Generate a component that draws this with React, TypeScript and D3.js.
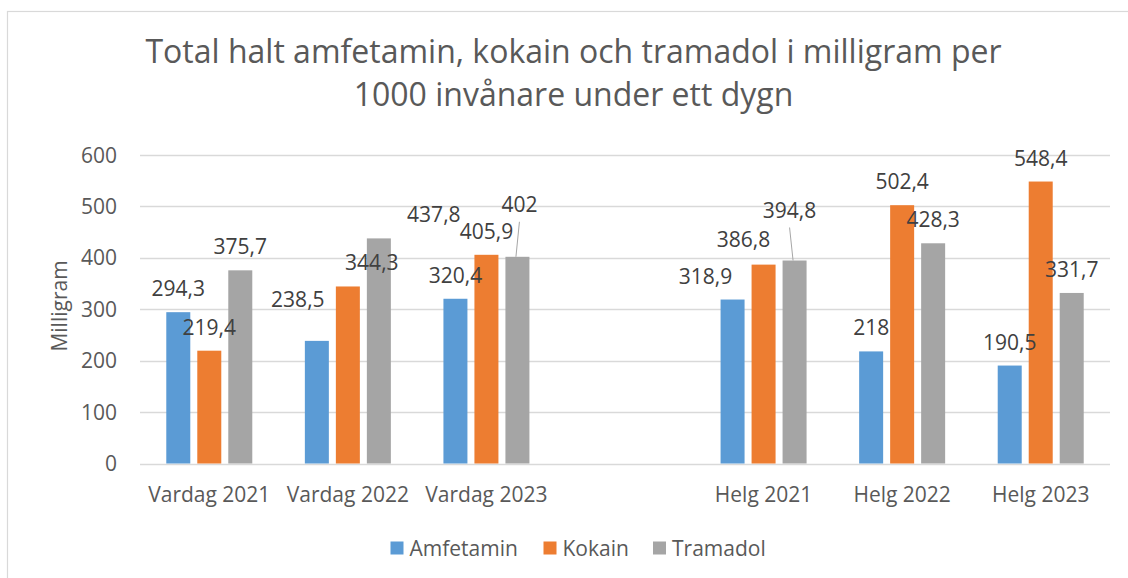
import React from 'react';
import * as d3 from 'd3';

const categories = ['Vardag 2021', 'Vardag 2022', 'Vardag 2023', '', 'Helg 2021', 'Helg 2022', 'Helg 2023'];
const seriesNames = ['Amfetamin', 'Kokain', 'Tramadol'];
const amfetamin = [294.3, 238.5, 320.4, null, 318.9, 218, 190.5];
const kokain = [219.4, 344.3, 405.9, null, 386.8, 502.4, 548.4];
const tramadol = [375.7, 437.8, 402, null, 394.8, 428.3, 331.7];
const yTicks = [0, 100, 200, 300, 400, 500, 600];
const colors = ['#5B9BD5', '#ED7D31', '#A5A5A5'];

// labels that were dragged by hand in the original (series index, category index)
const labelNudge: Record<string, { dx: number; dy: number; leader?: boolean }> = {
  '0-1': { dx: -19, dy: -18 },
  '1-1': { dx: 24, dy: 0 },
  '2-1': { dx: 55, dy: 0 },
  '2-2': { dx: 2, dy: -29, leader: true },
  '0-4': { dx: -27, dy: 0 },
  '1-4': { dx: -20, dy: -2 },
  '2-4': { dx: -5, dy: -27, leader: true },
};

const W = 1128;
const H = 578;
const FONT = '"Open Sans", "Noto Sans", sans-serif';
const FS = 21;

const fmt = (v: number) => String(v).replace('.', ',');

const App: React.FC = () => {
  const values = [amfetamin, kokain, tramadol];
  const x = d3.scaleBand<number>().domain(categories.map((_, i) => i)).range([140, 1110]);
  const inner = d3.scaleBand<number>().domain([0, 1, 2]).range([-43, 43]).paddingInner(7 / 31);
  const y = d3.scaleLinear().domain([0, 600]).range([463.5, 155]);
  const cx = (c: number) => (x(c) ?? 0) + x.bandwidth() / 2;

  const legendX = [390.5, 543.5, 653];

  return (
    <svg width={W} height={H} style={{ position: 'absolute', left: 0, top: 0, fontFamily: FONT }}>
      <rect x={0} y={0} width={W} height={H} fill="#fff" />
      <rect x={7.5} y={11.5} width={W + 20} height={H + 20} fill="none" stroke="#d9d9d9" strokeWidth={1.2} />

      <text x={573.5} y={63} textAnchor="middle" fontSize={32} fill="#595959">
        Total halt amfetamin, kokain och tramadol i milligram per
      </text>
      <text x={573.5} y={106} textAnchor="middle" fontSize={32} fill="#595959">
        1000 invånare under ett dygn
      </text>

      {yTicks.map(t => (
        <g key={t}>
          <line x1={140} x2={1110} y1={Math.round(y(t)) + 0.5} y2={Math.round(y(t)) + 0.5} stroke="#d9d9d9" strokeWidth={1.3} />
          <text x={117} y={y(t) + 7.5} textAnchor="end" fontSize={FS} fill="#595959">{t}</text>
        </g>
      ))}

      <text transform="translate(67,306) rotate(-90)" textAnchor="middle" fontSize={FS} fill="#595959">Milligram</text>

      {values.map((vals, s) =>
        vals.map((v, c) =>
          v == null ? null : (
            <rect key={`b${s}-${c}`} x={cx(c) + (inner(s) ?? 0)} width={inner.bandwidth()}
              y={y(v)} height={y(0) - y(v)} fill={colors[s]} />
          )
        )
      )}

      {values.map((vals, s) =>
        vals.map((v, c) => {
          if (v == null) return null;
          const bx = cx(c) + (inner(s) ?? 0) + inner.bandwidth() / 2;
          const n = labelNudge[`${s}-${c}`] ?? { dx: 0, dy: 0 };
          const lx = bx + n.dx;
          const ly = y(v) - 16 + n.dy;
          return (
            <g key={`l${s}-${c}`}>
              {n.leader && (
                <line x1={lx} y1={ly + 10} x2={bx - 1.5} y2={y(v)} stroke="#a6a6a6" strokeWidth={1} />
              )}
              <text x={lx} y={ly} textAnchor="middle" fontSize={FS} fill="#404040">{fmt(v)}</text>
            </g>
          );
        })
      )}

      {categories.map((c, i) => (
        <text key={`c${i}`} x={cx(i)} y={502} textAnchor="middle" fontSize={FS} fill="#595959">{c}</text>
      ))}

      {seriesNames.map((name, i) => (
        <g key={name}>
          <rect x={legendX[i]} y={541.5} width={13} height={13} fill={colors[i]} />
          <text x={legendX[i] + 19} y={555.5} fontSize={FS} fill="#595959">{name}</text>
        </g>
      ))}
    </svg>
  );
};

export default App;
